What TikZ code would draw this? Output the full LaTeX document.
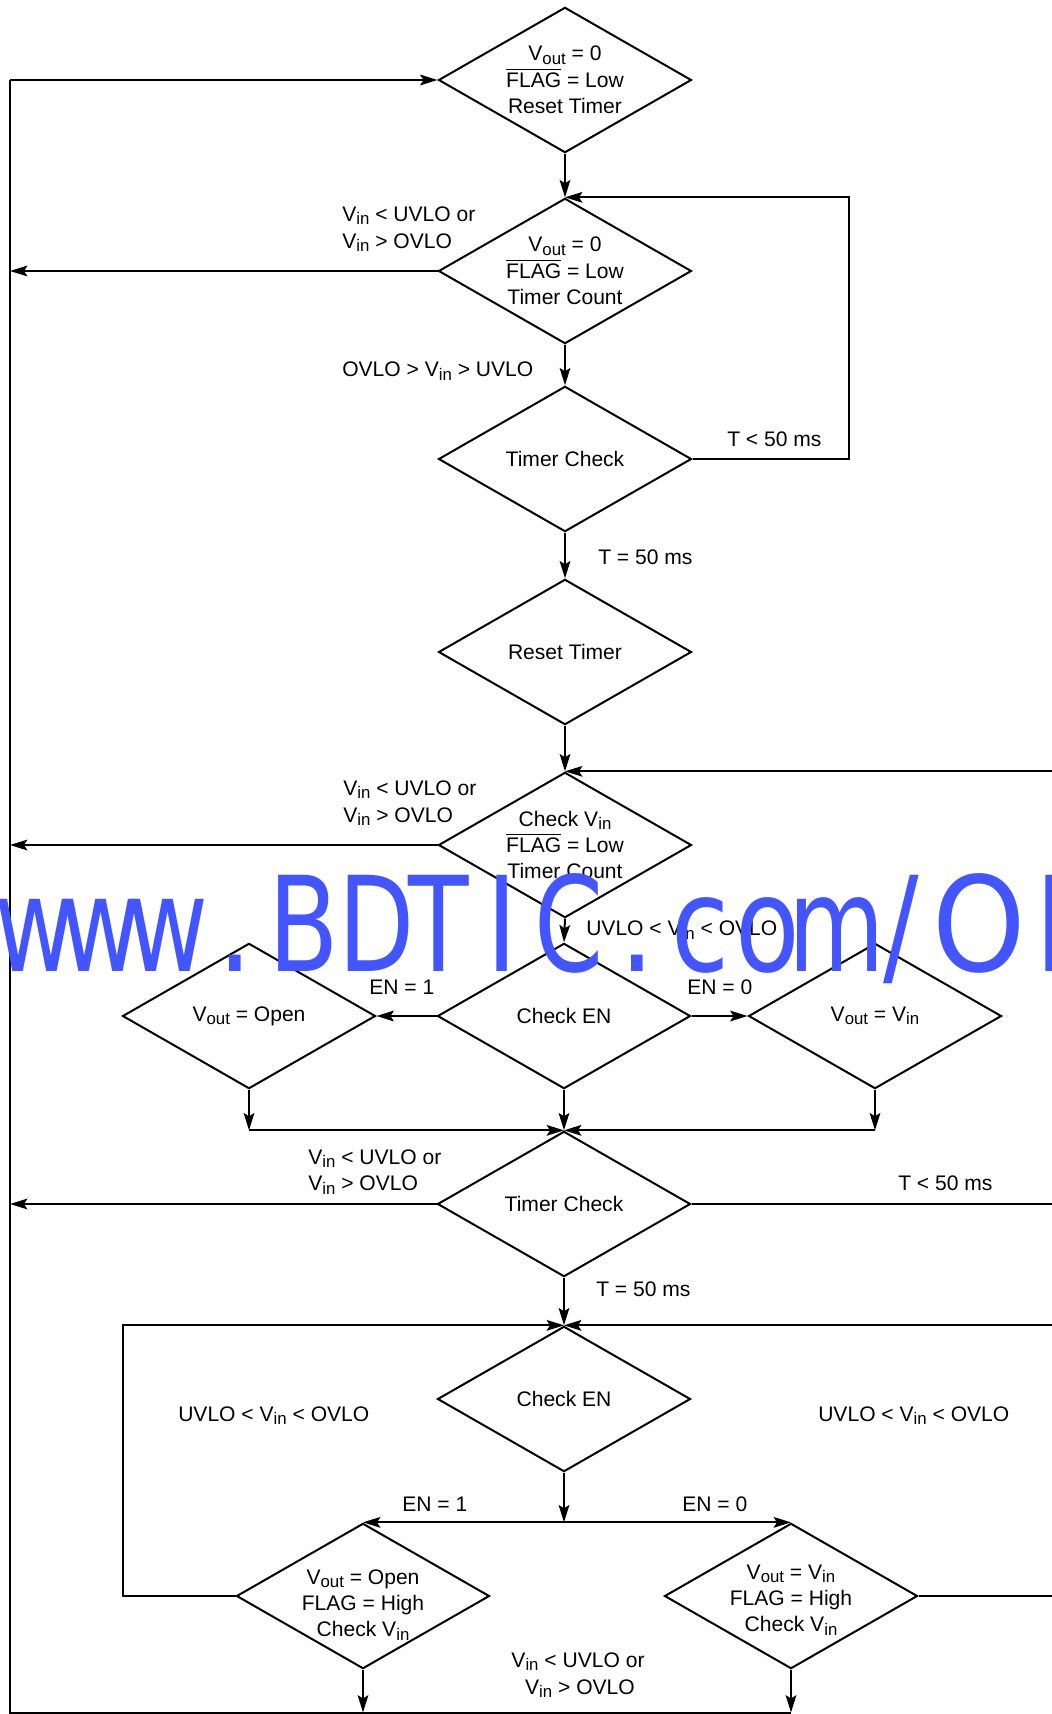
\documentclass[tikz,border=0pt]{standalone}
\usepackage{fontspec}
\setmainfont{Liberation Sans}
\newfontfamily\wmfont{DejaVu Sans}
\usetikzlibrary{shapes.geometric,arrows.meta}
\definecolor{wmblue}{RGB}{66,85,255}
\newcommand{\sbt}[1]{\raisebox{-2.7pt}{\fontsize{12.6}{12.6}\selectfont #1}}
\newcommand{\ovl}[1]{\vbox{\hrule height 0.7pt\kern 2.2pt\hbox{#1}}}
\newcommand{\lfont}{\fontsize{15.8}{19.8}\selectfont}
\tikzset{
  dia/.style={diamond, draw, line width=1.5pt, aspect=1.74, minimum width=189.75pt,
    minimum height=109pt, inner sep=0pt, align=center, font=\lfont},
  txt/.style={inner sep=0pt, align=center, font=\lfont},
  lab/.style={anchor=base west, inner sep=0pt, font=\lfont},
  labc/.style={anchor=base, inner sep=0pt, font=\lfont},
  conn/.style={line width=1.5pt},
  arr/.style={line width=1.5pt, -{Stealth[length=13pt,width=8pt,inset=2.5pt]}},
  wm/.style={anchor=base, inner sep=0pt, text=wmblue, font=\wmfont\fontsize{99}{99}\selectfont}
}
\begin{document}
\begin{tikzpicture}[x=0.75pt,y=-0.75pt]
\useasboundingbox[fill=white] (0,0) rectangle (1051,1714);

% diamonds
\node[dia] (d1) at (565,80) {V\sbt{out} = 0\\\ovl{FLAG} = Low\\Reset Timer};
\node[dia] (d2) at (565,271) {V\sbt{out} = 0\\\ovl{FLAG} = Low\\Timer Count};
\node[dia] (d3) at (565,459) {Timer Check};
\node[dia] (d4) at (565,652) {Reset Timer};
\node[dia] (d5) at (565,845) {Check V\sbt{in}\\\ovl{FLAG} = Low\\Timer Count};
\node[dia] (d6) at (564,1016) {Check EN};
\node[dia] (d7) at (249,1016) {V\sbt{out} = Open};
\node[dia] (d8) at (875,1016) {V\sbt{out} = V\sbt{in}};
\node[dia] (d9) at (564,1204) {Timer Check};
\node[dia] (d10) at (564,1399) {Check EN};
\node[dia] (d11) at (363,1596) {};
\node[dia] (d12) at (791,1596) {};
\node[txt] (t11) at (363,1605) {V\sbt{out} = Open\\FLAG = High\\Check V\sbt{in}};
\node[txt] (t12) at (791,1600) {V\sbt{out} = V\sbt{in}\\FLAG = High\\Check V\sbt{in}};

% helper coordinates
\coordinate (TL) at (10,80);
\coordinate (BL) at (10,1712.5);
\coordinate (RX) at (849,0);
\coordinate (RE) at (1054,0);
\coordinate (LX) at (123,0);
\coordinate (sp) at (d10.south |- d11.north);

% left return loop
\draw[conn] (d12.south |- BL) -- (BL) -- (TL);
\draw[arr] (TL) -- (d1.west);

% main column
\draw[arr] (d1.south) -- (d2.north);
\draw[arr] (d2.south) -- (d3.north);
\draw[arr] (d3.south) -- (d4.north);
\draw[arr] (d4.south) -- (d5.north);
\draw[arr] (d5.south) -- (d6.north);
\draw[arr] (d6.south) -- (d9.north);
\draw[arr] (d9.south) -- (d10.north);

% T < 50 ms loop
\draw[arr] (d3.east) -- (d3.east -| RX) -- (d2.north -| RX) -- (d2.north);

% exits to the left
\draw[arr] (d2.west) -- (d2.west -| TL);
\draw[arr] (d5.west) -- (d5.west -| TL);
\draw[arr] (d9.west) -- (d9.west -| TL);

% right edge lines
\draw[arr] (d5.north -| RE) -- (d5.north);
\draw[conn] (d9.east) -- (d9.east -| RE);
\draw[arr] (d10.north -| RE) -- (d10.north);
\draw[conn] (d12.east) -- (d12.east -| RE);

% EN branches (upper)
\draw[arr] (d6.west) -- (d7.east);
\draw[arr] (d6.east) -- (d8.west);
\draw[arr] (d7.south) -- (d7.south |- d9.north);
\draw[arr] (d8.south) -- (d8.south |- d9.north);
\draw[arr] (d7.south |- d9.north) -- (d9.north);
\draw[arr] (d8.south |- d9.north) -- (d9.north);

% EN branches (lower)
\draw[arr] (d10.south) -- (sp);
\draw[arr] (sp) -- (d11.north);
\draw[arr] (sp) -- (d12.north);
\draw[arr] (d11.west) -- (d11.west -| LX) -- (d10.north -| LX) -- (d10.north);
\draw[arr] (d11.south) -- (d11.south |- BL);
\draw[arr] (d12.south) -- (d12.south |- BL);

% labels
\node[lab] (l1a) at (342,221) {V\sbt{in} < UVLO or};
\node[lab] (l1b) at (342,248) {V\sbt{in} > OVLO};
\node[lab] (l2) at (342,376.5) {OVLO > V\sbt{in} > UVLO};
\node[lab] (l3) at (727,446) {T < 50 ms};
\node[lab] (l4) at (598,564) {T = 50 ms};
\node[lab] (l5a) at (343,795) {V\sbt{in} < UVLO or};
\node[lab] (l5b) at (343,822) {V\sbt{in} > OVLO};
\node[lab] (l6) at (586,935.5) {UVLO < V\sbt{in} < OVLO};
\node[lab] (l7a) at (369,994) {EN = 1};
\node[lab] (l7b) at (687,994) {EN = 0};
\node[lab] (l8a) at (308,1164) {V\sbt{in} < UVLO or};
\node[lab] (l8b) at (308,1190.5) {V\sbt{in} > OVLO};
\node[lab] (l9) at (898,1190.5) {T < 50 ms};
\node[lab] (l10) at (596,1296) {T = 50 ms};
\node[lab] (l11a) at (178,1421) {UVLO < V\sbt{in} < OVLO};
\node[lab] (l11b) at (818,1421) {UVLO < V\sbt{in} < OVLO};
\node[lab] (l12a) at (402,1511) {EN = 1};
\node[lab] (l12b) at (682,1511) {EN = 0};
\node[labc] (l13a) at (578,1667) {V\sbt{in} < UVLO or};
\node[labc] (l13b) at (580,1694) {V\sbt{in} > OVLO};

% watermark
\foreach \xx/\cc/\ss [count=\i] in {35/w/0.75,100.5/w/0.75,167.5/w/0.75,235/./0.85,303.5/B/0.78,376.5/D/0.75,439/T/0.75,502.5/I/0.8,569.5/C/0.75,637/./0.85,700.5/c/0.8,767.5/o/0.8,836.5/m/0.75,901.5/\slash/0.8,979/O/0.9,1075/N/0.8}
  \node[wm] (wm\i) at (\xx,971.5) {\scalebox{\ss}[1]{\cc}};
\end{tikzpicture}
\end{document}
